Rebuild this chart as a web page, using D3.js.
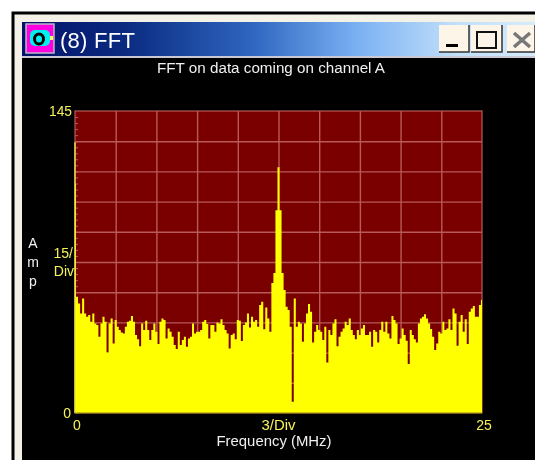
<!DOCTYPE html>
<html><head><meta charset="utf-8">
<script src="https://cdn.jsdelivr.net/npm/d3@7/dist/d3.min.js"></script>
<style>html,body{margin:0;padding:0;background:#fff;overflow:hidden}svg{display:block;filter:blur(0.45px)}</style>
</head><body><svg id="c" width="535" height="460"></svg>
<script>
const amps = [
110,55.8,52.6,47.8,55,47.8,46.2,47,43.8,47.8,
43,42.2,36.6,43,46.2,43.8,29,43,45.4,33.4,
44.6,41.4,39.8,38.6,38.2,41.4,43.8,44.3,46.6,43.8,
37.4,35.4,32.1,43,39.8,44.3,39.8,35,39.8,43,
39,33.1,43.8,45.4,44.6,35.8,40.6,39,36.6,32.6,
30.7,39,32.6,35,36.6,31.8,35.8,36.6,43,38.2,
39,39,39.8,43.8,44.6,42.7,35.8,42.2,42.2,39,
43.4,43,45,42.2,39.8,38.2,31,37.4,38.2,35.4,
44.6,44.3,34.6,42.2,43.4,47.8,41.1,46.2,43.8,44.6,
41.4,51.8,53.4,40.2,50.7,45.4,39,62.4,67.2,97.4,
118,97.4,67.2,59,51,49.4,41.4,5.4,55,41.4,
43.8,43,34.2,43,47.8,52.3,48.6,33.8,39,42.2,
39.8,39,35,41.4,24.2,39.8,37.4,43,45,32.1,
36.6,39,40.6,43.8,42.2,45.4,39.8,37.4,35.4,39.8,
37.4,40.6,42.2,37.4,37.4,39,31.8,39.8,39,33.8,
39.8,43.8,39,43.8,38.2,35.8,46.6,44.6,43,33.1,
35.8,40.6,37.4,34.7,23.5,39.8,37.4,35.4,33.9,43,
45.4,46.2,47.4,45.4,43,40.3,36.6,30.2,33.4,39,
38.2,43.8,39.8,40.6,45,39.8,50.2,47.8,32.3,43.8,
47,39,45,33.1,48.6,50.2,51.4,46.2,46.2,51.8,54.2];
const binMHz = 0.125;
const dcSpike = 130;
const xGridMHz = [2.5,5,7.5,10,12.5,15,17.5,20,22.5];
const yGridAmp = [14.5,29,43.5,58,72.5,87,101.5,116,130.5];
const yMinorAmp = d3.range(0,145,2.9);
const titleText = "(8) FFT";
const subtitle = "FFT on data coming on channel A";
const xLabel = "Frequency (MHz)";

const svg = d3.select("#c");
const L=75,R=482,T=111,B=413;
const x = d3.scaleLinear().domain([0,25]).range([L,R]);
const y = d3.scaleLinear().domain([0,145]).range([B,T]);

// window frame
svg.append("rect").attr("x",13).attr("y",13).attr("width",530).attr("height",460).attr("fill","#f4f1e6").attr("stroke","#000").attr("stroke-width",3);
const defs = svg.append("defs");
const g = defs.append("linearGradient").attr("id","tb");
[[0,"#04136a"],[0.2,"#0a2a80"],[0.45,"#2f66c0"],[0.65,"#79b0f2"],[0.85,"#c2e0fa"],[1,"#d6ebfb"]].forEach(s=>g.append("stop").attr("offset",s[0]).attr("stop-color",s[1]));
svg.append("rect").attr("x",22).attr("y",22).attr("width",513).attr("height",34).attr("fill","url(#tb)");
svg.append("rect").attr("x",22).attr("y",58).attr("width",513).attr("height",402).attr("fill","#000");
svg.append("rect").attr("x",22).attr("y",56).attr("width",513).attr("height",2).attr("fill","#c9c9d4");

// icon
svg.append("rect").attr("x",26).attr("y",24).attr("width",28).attr("height",29).attr("fill","#ff00e0").attr("stroke","#b8b8c8").attr("stroke-width",1.5);
svg.append("rect").attr("x",30).attr("y",30).attr("width",20).attr("height",16).attr("rx",5).attr("fill","#00f0f0");
svg.append("rect").attr("x",50).attr("y",36).attr("width",3).attr("height",4).attr("fill","#ffff60");
svg.append("ellipse").attr("cx",39).attr("cy",39).attr("rx",4.5).attr("ry",5).attr("fill","#00f0f0").attr("stroke","#000").attr("stroke-width",3);

svg.append("text").attr("x",60).attr("y",48).attr("fill","#fff").attr("font-family","Liberation Sans").attr("font-size",22).attr("textLength",75).text(titleText);

// buttons
[[439,30],[471,31],[507,28]].forEach(b=>{
  svg.append("rect").attr("x",b[0]).attr("y",25).attr("width",b[1]).attr("height",27).attr("fill","#fdf6e8");
  svg.append("path").attr("d",`M${b[0]},52H${b[0]+b[1]}V25`).attr("fill","none").attr("stroke","#333").attr("stroke-width",1.5);
});
svg.append("rect").attr("x",446).attr("y",44).attr("width",12).attr("height",3).attr("fill","#000");
svg.append("rect").attr("x",477).attr("y",32).attr("width",19).attr("height",16).attr("fill","none").attr("stroke","#111").attr("stroke-width",2);
svg.append("path").attr("d","M514,33L530,47M530,33L514,47").attr("stroke","#777").attr("stroke-width",3.5);

// plot
svg.append("rect").attr("x",L).attr("y",T).attr("width",R-L).attr("height",B-T).attr("fill","#7a0000");
const gridCol="#b85a5a";
const gx = svg.append("g").attr("transform",`translate(0,${B})`).call(d3.axisBottom(x).tickValues(xGridMHz).tickSize(-(B-T)).tickFormat(""));
const gy = svg.append("g").attr("transform",`translate(${L},0)`).call(d3.axisLeft(y).tickValues(yGridAmp).tickSize(-(R-L)).tickFormat(""));
[gx,gy].forEach(a=>{a.select(".domain").remove();a.selectAll("line").attr("stroke",gridCol).attr("stroke-width",1.4);});
const gm = svg.append("g").attr("transform",`translate(${L},0)`).call(d3.axisRight(y).tickValues(yMinorAmp).tickSize(3).tickFormat(""));
gm.select(".domain").remove(); gm.selectAll("line").attr("stroke",gridCol).attr("stroke-width",1);
svg.append("rect").attr("x",L).attr("y",T).attr("width",R-L).attr("height",B-T).attr("fill","none").attr("stroke",gridCol).attr("stroke-width",1.2);

const area = d3.area().x((d,i)=>x(i*binMHz)).y0(B).y1(d=>y(d)).curve(d3.curveStep);
svg.append("path").datum(amps).attr("d",area).attr("fill","#ffff00");
svg.append("line").attr("x1",x(0)).attr("x2",x(0)).attr("y1",y(dcSpike)).attr("y2",B).attr("stroke","#e8e040").attr("stroke-width",1.5);
svg.append("line").attr("x1",L).attr("x2",R).attr("y1",B).attr("y2",B).attr("stroke","#8a8a10").attr("stroke-width",1.2);

// labels
const txt=(s,xp,yp,col,anchor,size,len)=>{const t=svg.append("text").attr("x",xp).attr("y",yp).attr("fill",col).attr("text-anchor",anchor||"start").attr("font-family","Liberation Sans").attr("font-size",size||14).text(s); if(len) t.attr("textLength",len).attr("lengthAdjust","spacingAndGlyphs"); return t;};
const YEL="#f6f25a";
txt(subtitle,271,73,"#f0f0f0","middle",14,228);
txt("145",72,116,YEL,"end",15,23);
txt("15/",73,258,YEL,"end",14);
txt("Div",74,276,YEL,"end",14);
txt("0",71,418,YEL,"end",14);
txt("0",x(0)+2,430,YEL,"middle",14);
txt("3/Div",x(12.5),430,YEL,"middle",14,34);
txt("25",x(25)+2,430,YEL,"middle",14);
txt(xLabel,274,446,"#f0f0f0","middle",14,115);
["A","m","p"].forEach((c,i)=>txt(c,33,[248,267,286][i],"#f0f0f0","middle",14));
</script></body></html>
